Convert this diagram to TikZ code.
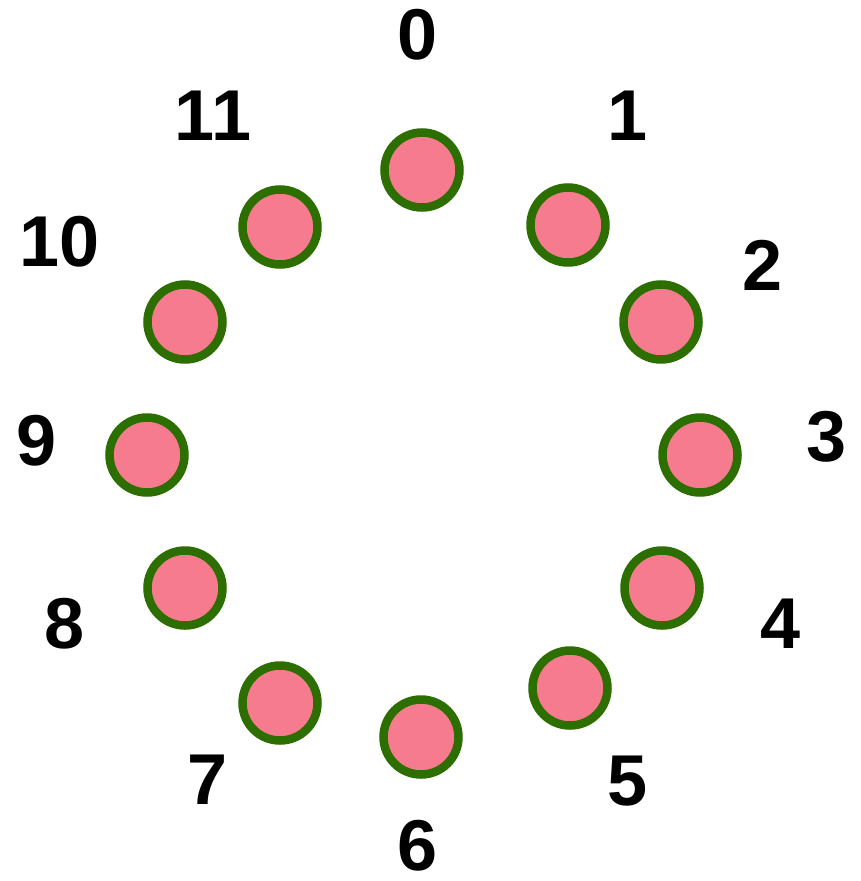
\documentclass[tikz,border=0pt]{standalone}
\usepackage{fontspec}
\setmainfont{Liberation Sans}
\definecolor{ringgreen}{RGB}{45,110,0}
\definecolor{dotpink}{RGB}{247,123,142}
\begin{document}
\begin{tikzpicture}[x=1pt,y=-1pt,
  dot/.style={circle,draw=ringgreen,fill=dotpink,line width=8.5pt,minimum size=75pt,inner sep=0pt},
  lbl/.style={font=\fontsize{72}{72}\selectfont\bfseries,inner sep=0pt,anchor=center}]
\useasboundingbox (0,0) rectangle (860,881);
% circles
\node[dot] (c0) at (422,170) {};
\node[dot] (c1) at (568,225) {};
\node[dot] (c2) at (661,322) {};
\node[dot] (c3) at (700,455) {};
\node[dot] (c4) at (662,588) {};
\node[dot] (c5) at (570,688) {};
\node[dot] (c6) at (421,737) {};
\node[dot] (c7) at (280,703) {};
\node[dot] (c8) at (185,588) {};
\node[dot] (c9) at (147,455) {};
\node[dot] (c10) at (185,322) {};
\node[dot] (c11) at (280,227) {};
% labels
\node[lbl] (l0) at (418,35) {0};
\node[lbl] (l1) at (628,116) {1};
\node[lbl] (l2) at (763,265) {2};
\node[lbl] (l3) at (827,437) {3};
\node[lbl] (l4) at (781,624) {4};
\node[lbl] (l5) at (628,781) {5};
\node[lbl] (l6) at (418,846) {6};
\node[lbl] (l7) at (208,780) {7};
\node[lbl] (l8) at (65,624) {8};
\node[lbl] (l9) at (37,441) {9};
\node[lbl] (l10) at (60,242) {10};
\node[lbl] (l11) at (213,116) {11};
\end{tikzpicture}
\end{document}
